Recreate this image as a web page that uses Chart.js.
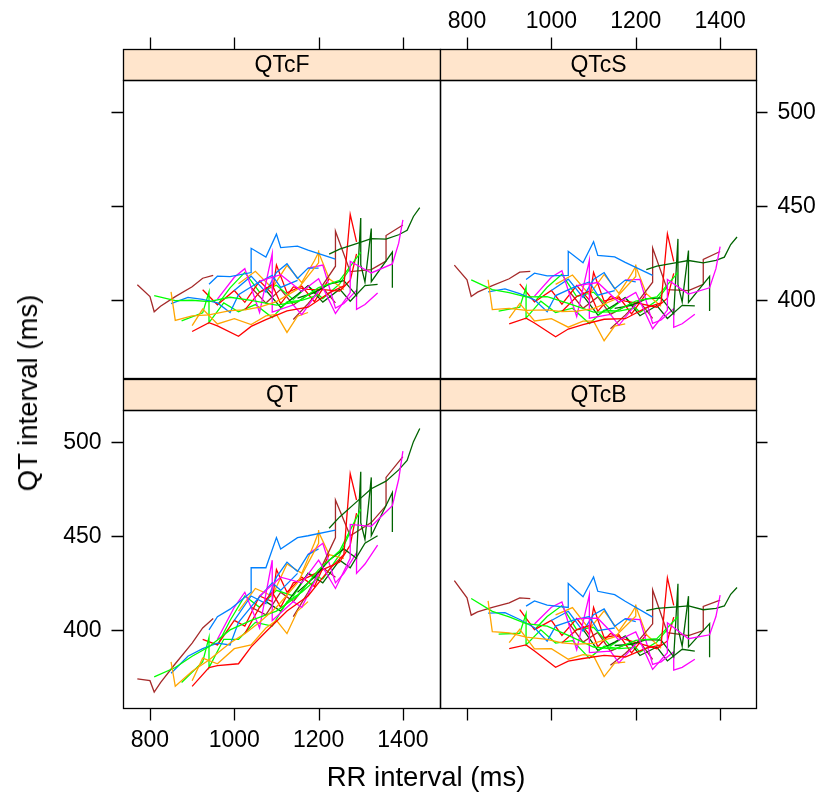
<!DOCTYPE html>
<html>
<head>
<meta charset="utf-8">
<script src="https://cdn.jsdelivr.net/npm/chart.js@4"></script>
<style>
  body { margin: 0; background: #fff; }
  #wrap { position: relative; width: 823px; height: 802px; }
  #wrap canvas { position: absolute; left: 0; top: 0; }
  .title { position: absolute; font-family: "Liberation Sans", Arial, sans-serif; font-size: 27.5px; color: #000; white-space: nowrap; }
  #xlab { left: 426px; top: 777px; transform: translate(-50%, -50%); }
  #ylab { left: 28px; top: 393px; transform: translate(-50%, -50%) rotate(-90deg); }
</style>
</head>
<body>
<div id="wrap">
  <canvas id="pQTcF" width="823" height="802"></canvas>
  <canvas id="pQTcS" width="823" height="802"></canvas>
  <canvas id="pQT" width="823" height="802"></canvas>
  <canvas id="pQTcB" width="823" height="802"></canvas>
  <div class="title" id="xlab">RR interval (ms)</div>
  <div class="title" id="ylab">QT interval (ms)</div>
</div>
<script>
// tick labels
const xTicks = [800, 1000, 1200, 1400];
const yTicks = [400, 450, 500];

// lattice default line colours, recycled over subjects
const subjectColors = ['#0080ff', '#ff00ff', '#006400', '#ff0000', '#ffa500', '#00ff00', '#a52a2a'];

// RR interval (ms) per subject
const rrValues = [
  [940, 960, 990, 1040, 1040, 1075, 1100, 1110, 1150, 1175, 1240],
  [1060, 1110, 1160, 1200, 1240, 1275, 1275, 1325, 1375, 1390, 1400],
  [1225, 1250, 1290, 1325, 1360, 1390, 1410, 1425, 1440],
  [900, 940, 960, 1010, 1040, 1075, 1125, 1175, 1225, 1260, 1275, 1290],
  [850, 860, 900, 940, 990, 1025, 1060, 1100, 1150, 1200, 1200],
  [810, 860, 900, 940, 990, 1040, 1100, 1150, 1200, 1250, 1300],
  [770, 800, 810, 825, 860, 900, 925, 950],
  [850, 890, 925, 960, 990, 1010, 1050, 1090, 1110, 1150],
  [960, 1000, 1025, 1060, 1090, 1090, 1140, 1160, 1200],
  [1150, 1190, 1225, 1260, 1290, 1300, 1300, 1310, 1325, 1325, 1375, 1375],
  [1025, 1060, 1090, 1110, 1140, 1175, 1210, 1250, 1275, 1290],
  [900, 925, 960, 1000, 1040, 1075, 1100, 1125, 1150, 1175],
  [875, 925, 940, 940, 975, 1010, 1050, 1090, 1125, 1160, 1200],
  [1140, 1175, 1200, 1240, 1240, 1275, 1325, 1360, 1360, 1400],
  [1000, 1040, 1075, 1100, 1125, 1150, 1175, 1200],
  [1175, 1210, 1240, 1260, 1290, 1290, 1310, 1340],
  [1075, 1110, 1150, 1175, 1210, 1250, 1275, 1310, 1340],
  [925, 960, 1000, 1025, 1060, 1090, 1100, 1125, 1160, 1190, 1225],
  [1010, 1050, 1090, 1125, 1160, 1190, 1200, 1225, 1260],
  [960, 990, 1025, 1060, 1100, 1140, 1175, 1210, 1250, 1275],
  [1040, 1075, 1110, 1140, 1175, 1210, 1240]
];

// uncorrected QT (ms)
const qt = [
  [400, 407, 411, 420, 433, 433, 449, 443, 449, 450, 453],
  [418, 428, 425, 437, 422, 438, 456, 455, 466, 480, 495],
  [454, 460, 468, 475, 479, 485, 490, 500, 507],
  [370, 380, 381, 382, 391, 399, 410, 418, 432, 440, 483, 469],
  [383, 370, 378, 384, 393, 398, 404, 412, 425, 446, 453],
  [375, 380, 386, 391, 400, 405, 410, 418, 432, 442, 464],
  [374, 373, 367, 372, 382, 393, 401, 406],
  [377, 386, 390, 393, 392, 404, 415, 425, 421, 430],
  [395, 412, 420, 401, 437, 405, 415, 412, 430],
  [420, 428, 437, 443, 438, 484, 457, 448, 481, 450, 473, 452],
  [398, 412, 420, 412, 425, 428, 432, 436, 445, 462],
  [373, 385, 382, 390, 392, 401, 405, 398, 410, 415],
  [372, 383, 396, 380, 395, 395, 404, 402, 415, 420, 428],
  [407, 420, 430, 449, 469, 450, 457, 466, 481, 492],
  [405, 418, 414, 428, 436, 431, 440, 443],
  [440, 446, 425, 430, 441, 430, 435, 445],
  [415, 410, 422, 430, 425, 437, 433, 446, 450],
  [395, 392, 405, 402, 418, 415, 432, 420, 428, 423, 440],
  [410, 422, 418, 435, 430, 446, 452, 440, 438],
  [392, 405, 418, 412, 421, 418, 430, 427, 440, 452],
  [412, 408, 420, 415, 425, 433, 428]
];

// Fridericia corrected
const qtcF = [
  [408.3, 412.6, 412.4, 414.5, 427.4, 422.7, 434.9, 427.8, 428.6, 426.4, 421.7],
  [410.0, 413.4, 404.5, 411.2, 392.8, 403.9, 420.5, 414.3, 419.1, 430.1, 442.5],
  [424.3, 427.0, 429.9, 432.5, 432.3, 434.6, 437.0, 444.3, 449.0],
  [383.2, 387.9, 386.2, 380.7, 385.9, 389.5, 394.2, 396.1, 403.7, 407.4, 445.4, 430.8],
  [404.3, 389.1, 391.5, 392.0, 394.3, 394.7, 396.2, 399.1, 405.7, 419.7, 426.3],
  [402.3, 399.6, 399.8, 399.1, 401.4, 399.7, 397.2, 399.0, 406.5, 410.3, 425.2],
  [408.0, 401.8, 393.7, 396.6, 401.7, 407.0, 411.5, 413.0],
  [398.0, 401.3, 400.3, 398.4, 393.3, 402.7, 408.3, 413.0, 406.6, 410.4],
  [400.4, 412.0, 416.6, 393.3, 424.6, 393.5, 397.3, 392.1, 404.6],
  [400.9, 403.9, 408.4, 410.2, 402.3, 443.5, 418.7, 409.4, 437.9, 409.7, 425.4, 406.5],
  [394.7, 404.1, 408.1, 397.9, 406.9, 405.6, 405.4, 404.7, 410.4, 424.4],
  [386.3, 395.1, 387.2, 390.0, 386.9, 391.5, 392.3, 382.7, 391.3, 393.3],
  [388.9, 393.1, 404.2, 387.9, 398.4, 393.7, 397.5, 390.6, 399.0, 399.7, 402.7],
  [389.6, 398.0, 404.6, 417.9, 436.5, 415.0, 416.1, 420.6, 434.2, 439.8],
  [405.0, 412.6, 404.1, 414.6, 419.2, 411.4, 416.9, 416.9],
  [416.9, 418.5, 395.6, 398.1, 405.1, 395.0, 397.5, 403.6],
  [405.1, 396.0, 402.8, 407.5, 398.8, 405.7, 399.3, 407.6, 408.2],
  [405.4, 397.4, 405.0, 398.7, 410.0, 403.3, 418.5, 403.8, 407.3, 399.1, 411.2],
  [408.6, 415.2, 406.2, 418.3, 409.2, 420.8, 425.3, 411.2, 405.5],
  [397.4, 406.4, 414.6, 404.1, 407.8, 400.2, 407.5, 400.7, 408.5, 416.8],
  [406.6, 398.3, 405.6, 397.3, 402.7, 406.3, 398.4]
];

// study specific correction
const qtcS = [
  [410.8, 414.2, 412.8, 413.0, 425.8, 419.7, 430.9, 423.6, 422.8, 419.9, 413.0],
  [407.6, 409.2, 398.7, 404.0, 384.7, 394.6, 410.8, 403.1, 406.4, 416.6, 428.3],
  [416.1, 417.9, 419.5, 420.9, 419.7, 421.0, 422.7, 429.4, 433.4],
  [387.2, 390.3, 387.7, 380.4, 384.5, 386.8, 389.7, 390.0, 395.9, 398.4, 435.1, 420.4],
  [410.7, 394.8, 395.5, 394.4, 394.7, 393.8, 394.0, 395.4, 400.2, 412.4, 418.8],
  [410.6, 405.5, 403.9, 401.6, 401.7, 398.2, 393.5, 393.6, 399.4, 401.6, 414.5],
  [418.5, 410.6, 401.8, 404.1, 407.6, 411.2, 414.7, 415.1],
  [404.3, 405.8, 403.3, 400.0, 393.7, 402.3, 406.4, 409.5, 402.5, 404.9],
  [402.0, 412.0, 415.5, 391.1, 421.1, 390.3, 392.3, 386.5, 397.6],
  [395.5, 397.1, 400.5, 401.1, 392.6, 432.4, 408.2, 398.9, 426.2, 398.7, 412.5, 394.1],
  [393.8, 401.8, 404.7, 393.9, 401.8, 399.3, 398.0, 396.1, 400.9, 414.1],
  [390.3, 398.1, 388.8, 390.0, 385.5, 388.7, 388.7, 378.3, 386.1, 387.2],
  [394.0, 396.1, 406.7, 390.3, 399.3, 393.3, 395.6, 387.4, 394.5, 394.0, 395.7],
  [384.7, 391.9, 397.6, 409.4, 427.6, 405.4, 404.9, 408.3, 421.5, 425.7],
  [405.0, 411.0, 401.3, 410.8, 414.5, 405.9, 410.5, 409.6],
  [410.5, 410.9, 387.5, 389.3, 395.3, 385.4, 387.3, 392.4],
  [402.3, 392.0, 397.4, 401.2, 391.6, 397.0, 390.1, 397.1, 396.8],
  [408.5, 398.9, 405.0, 397.7, 407.6, 399.9, 414.6, 399.3, 401.6, 392.5, 403.3],
  [408.2, 413.2, 402.8, 413.5, 403.4, 413.8, 417.9, 403.3, 396.6],
  [398.9, 406.7, 413.6, 401.8, 404.1, 395.1, 401.2, 393.4, 399.7, 407.2],
  [405.1, 395.5, 401.6, 392.3, 396.5, 398.9, 390.2]
];

// Bazett corrected
const qtcB = [
  [412.6, 415.4, 413.1, 411.9, 424.6, 417.6, 428.1, 420.5, 418.7, 415.2, 406.8],
  [406.0, 406.2, 394.6, 398.9, 379.0, 387.9, 403.8, 395.3, 397.4, 407.1, 418.4],
  [410.2, 411.4, 412.1, 412.7, 410.7, 411.4, 412.7, 418.9, 422.5],
  [390.0, 392.0, 388.8, 380.1, 383.4, 384.8, 386.5, 385.6, 390.3, 392.0, 427.7, 413.0],
  [415.4, 399.0, 398.4, 396.1, 395.0, 393.1, 392.4, 392.8, 396.3, 407.2, 413.5],
  [416.7, 409.8, 406.9, 403.3, 402.0, 397.1, 390.9, 389.8, 394.4, 395.3, 407.0],
  [426.2, 417.0, 407.8, 409.6, 411.9, 414.3, 417.0, 416.6],
  [408.9, 409.2, 405.5, 401.1, 394.0, 402.0, 405.0, 407.1, 399.6, 401.0],
  [403.1, 412.0, 414.8, 389.5, 418.6, 387.9, 388.7, 382.5, 392.5],
  [391.7, 392.3, 394.8, 394.6, 385.7, 424.5, 400.8, 391.4, 417.9, 391.0, 403.3, 385.4],
  [393.1, 400.1, 402.3, 391.0, 398.1, 394.9, 392.7, 390.0, 394.1, 406.8],
  [393.2, 400.3, 389.9, 390.0, 384.4, 386.8, 386.2, 375.2, 382.3, 382.9],
  [397.7, 398.2, 408.5, 392.0, 400.0, 393.0, 394.3, 385.0, 391.3, 390.0, 390.7],
  [381.2, 387.5, 392.5, 403.2, 421.2, 398.5, 397.0, 399.6, 412.5, 415.8],
  [405.0, 409.9, 399.3, 408.1, 411.1, 401.9, 405.9, 404.4],
  [405.9, 405.5, 381.7, 383.0, 388.3, 378.6, 380.1, 384.4],
  [400.3, 389.1, 393.5, 396.7, 386.4, 390.9, 383.5, 389.7, 388.7],
  [410.7, 400.1, 405.0, 397.1, 406.0, 397.5, 411.9, 395.9, 397.4, 387.8, 397.5],
  [408.0, 411.8, 400.4, 410.1, 399.3, 408.8, 412.6, 397.5, 390.2],
  [400.1, 407.1, 412.9, 400.1, 401.4, 391.5, 396.7, 388.2, 393.5, 400.3],
  [404.0, 393.5, 398.6, 388.7, 392.1, 393.6, 384.3]
];

const FONT = '23px "Liberation Sans", Arial, sans-serif';
const STRIP_H = 31;

// draws frame, strip and the alternating lattice axes
const latticePanel = {
  id: 'latticePanel',
  afterDraw(chart, args, o) {
    const { ctx, chartArea: a, scales: { x, y } } = chart;
    const L = Math.round(a.left) + 0.5, R = Math.round(a.right) + 0.5;
    const T = Math.round(a.top) + 0.5, B = Math.round(a.bottom) + 0.5;
    const sTop = T - STRIP_H;
    ctx.save();
    ctx.fillStyle = '#ffe5cc';
    ctx.fillRect(L, sTop, R - L, STRIP_H);
    ctx.strokeStyle = '#000';
    ctx.lineWidth = 1.3;
    ctx.strokeRect(L, sTop, R - L, STRIP_H);
    ctx.strokeRect(L, T, R - L, B - T);
    ctx.fillStyle = '#000';
    ctx.font = FONT;
    ctx.textAlign = 'center';
    ctx.textBaseline = 'middle';
    ctx.fillText(o.strip, (L + R) / 2, sTop + STRIP_H / 2 + 1);

    ctx.beginPath();
    if (o.top) xTicks.forEach(v => { const px = Math.round(x.getPixelForValue(v)) + 0.5; ctx.moveTo(px, sTop - 12); ctx.lineTo(px, sTop); });
    if (o.bottom) xTicks.forEach(v => { const px = Math.round(x.getPixelForValue(v)) + 0.5; ctx.moveTo(px, B); ctx.lineTo(px, B + 12); });
    if (o.left) yTicks.forEach(v => { const py = Math.round(y.getPixelForValue(v)) + 0.5; ctx.moveTo(L - 12, py); ctx.lineTo(L, py); });
    if (o.right) yTicks.forEach(v => { const py = Math.round(y.getPixelForValue(v)) + 0.5; ctx.moveTo(R, py); ctx.lineTo(R + 11, py); });
    ctx.stroke();

    if (o.top === 2) xTicks.forEach(v => ctx.fillText(String(v), x.getPixelForValue(v), sTop - 28));
    if (o.bottom === 2) xTicks.forEach(v => ctx.fillText(String(v), x.getPixelForValue(v), B + 32));
    if (o.right === 2) {
      ctx.textAlign = 'left';
      yTicks.forEach(v => ctx.fillText(String(v), R + 21, y.getPixelForValue(v) + 1));
    }
    if (o.left === 2) {
      ctx.textAlign = 'right';
      yTicks.forEach(v => ctx.fillText(String(v), L - 22, y.getPixelForValue(v) + 1));
    }
    ctx.restore();
  }
};

function makePanel(id, values, pad, xMax, axes) {
  new Chart(document.getElementById(id), {
    type: 'line',
    data: {
      datasets: rrValues.map((rr, i) => ({
        data: rr.map((v, j) => ({ x: v, y: values[i][j] })),
        borderColor: subjectColors[i % subjectColors.length],
        borderWidth: 1.3,
        pointRadius: 0,
        tension: 0,
        fill: false
      }))
    },
    options: {
      responsive: false,
      animation: false,
      layout: { padding: pad },
      scales: {
        x: { type: 'linear', min: 736, max: xMax, display: false },
        y: { type: 'linear', min: 358.5, max: 516.8, display: false }
      },
      plugins: {
        legend: { display: false },
        tooltip: { enabled: false },
        latticePanel: axes
      }
    },
    plugins: [latticePanel]
  });
}

makePanel('pQTcF', qtcF, { left: 123, top: 80, right: 383, bottom: 424 }, 1488, { strip: 'QTcF', top: 1, left: 1 });
makePanel('pQTcS', qtcS, { left: 440, top: 80, right: 67, bottom: 424 }, 1485, { strip: 'QTcS', top: 2, right: 2 });
makePanel('pQT', qt, { left: 123, top: 410, right: 383, bottom: 94 }, 1488, { strip: 'QT', left: 2, bottom: 2 });
makePanel('pQTcB', qtcB, { left: 440, top: 410, right: 67, bottom: 94 }, 1485, { strip: 'QTcB', bottom: 1, right: 1 });
</script>
</body>
</html>
